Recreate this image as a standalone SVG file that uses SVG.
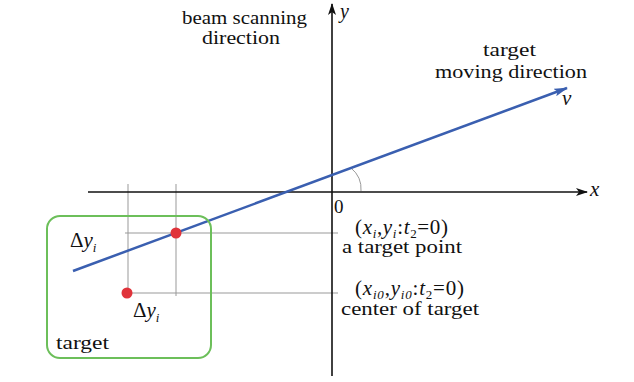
<svg xmlns="http://www.w3.org/2000/svg" width="634" height="382" viewBox="0 0 634 382">
<defs>
<marker id="ah" viewBox="0 0 12 8" refX="11" refY="4" markerWidth="12" markerHeight="8" markerUnits="userSpaceOnUse" orient="auto">
<path d="M0,0 L12,4 L0,8 L3,4 Z" fill="#111"/>
</marker>
<marker id="ahb" viewBox="0 0 14 8" refX="13" refY="4" markerWidth="14" markerHeight="8" markerUnits="userSpaceOnUse" orient="auto">
<path d="M0,0 L14,4 L0,8 L3,4 Z" fill="#3a5fb0"/>
</marker>
</defs>
<style>
.t{font-family:'Liberation Serif','DejaVu Serif',serif;font-size:19px;fill:#111}
.big{font-size:21px}
.ax{font-size:20px}
.it{font-style:italic}
.sub{font-size:13px;font-style:italic}
.grid{stroke:#999;stroke-width:1;fill:none}
.axis{stroke:#111;stroke-width:1.6;fill:none}
</style>
<rect width="634" height="382" fill="#fff"/>
<g id="connectors">
<line class="grid" x1="128" y1="184" x2="128" y2="293"/>
<line class="grid" x1="176" y1="184" x2="176" y2="296"/>
<line class="grid" x1="125" y1="233" x2="338" y2="233"/>
<line class="grid" x1="128" y1="293" x2="338" y2="293"/>
<path class="grid" d="M351,168 Q362,177 361,191"/>
<line class="axis" x1="88" y1="192" x2="587" y2="192" marker-end="url(#ah)"/>
<line class="axis" x1="332" y1="376" x2="332" y2="4" marker-end="url(#ah)"/>
<line x1="73" y1="271" x2="567" y2="88" stroke="#3a5fb0" stroke-width="2.5" marker-end="url(#ahb)"/>
</g>
<g id="target">
<rect x="47" y="216" width="164" height="142" rx="13" fill="none" stroke="#6cbf5a" stroke-width="2"/>
<text class="t" x="56" y="349" textLength="53" lengthAdjust="spacingAndGlyphs">target</text>
</g>
<g id="point">
<circle cx="176" cy="233" r="5.5" fill="#e0333a"/>
<text class="t big" x="70" y="247">Δ<tspan class="it">y</tspan><tspan class="sub" baseline-shift="-5">i</tspan></text>
</g>
<g id="center">
<circle cx="127" cy="293" r="5.5" fill="#e0333a"/>
<text class="t big" x="133" y="317">Δ<tspan class="it">y</tspan><tspan class="sub" baseline-shift="-5">i</tspan></text>
</g>
<g id="labels">
<text class="t" x="182" y="24" textLength="125" lengthAdjust="spacingAndGlyphs">beam scanning</text>
<text class="t" x="202" y="44" textLength="78" lengthAdjust="spacingAndGlyphs">direction</text>
<text class="t it ax" x="340" y="18">y</text>
<text class="t" x="483" y="56" textLength="53" lengthAdjust="spacingAndGlyphs">target</text>
<text class="t" x="435" y="78" textLength="152" lengthAdjust="spacingAndGlyphs">moving direction</text>
<text class="t it big" x="562" y="105">v</text>
<text class="t it big" x="590" y="196">x</text>
<text class="t" x="334" y="213">0</text>
<text class="t big" x="355" y="234" textLength="93" lengthAdjust="spacing">(<tspan class="it">x</tspan><tspan class="sub" baseline-shift="-4">i</tspan>,<tspan class="it">y</tspan><tspan class="sub" baseline-shift="-4">i</tspan>:<tspan class="it">t</tspan><tspan class="sub" style="font-style:normal" baseline-shift="-4">2</tspan>=0)</text>
<text class="t" x="342" y="253" textLength="120" lengthAdjust="spacingAndGlyphs">a target point</text>
<text class="t big" x="355" y="295" textLength="109" lengthAdjust="spacing">(<tspan class="it">x</tspan><tspan class="sub" baseline-shift="-4">i0</tspan>,<tspan class="it">y</tspan><tspan class="sub" baseline-shift="-4">i0</tspan>:<tspan class="it">t</tspan><tspan class="sub" style="font-style:normal" baseline-shift="-4">2</tspan>=0)</text>
<text class="t" x="341" y="315" textLength="138" lengthAdjust="spacingAndGlyphs">center of target</text>
</g>
</svg>
